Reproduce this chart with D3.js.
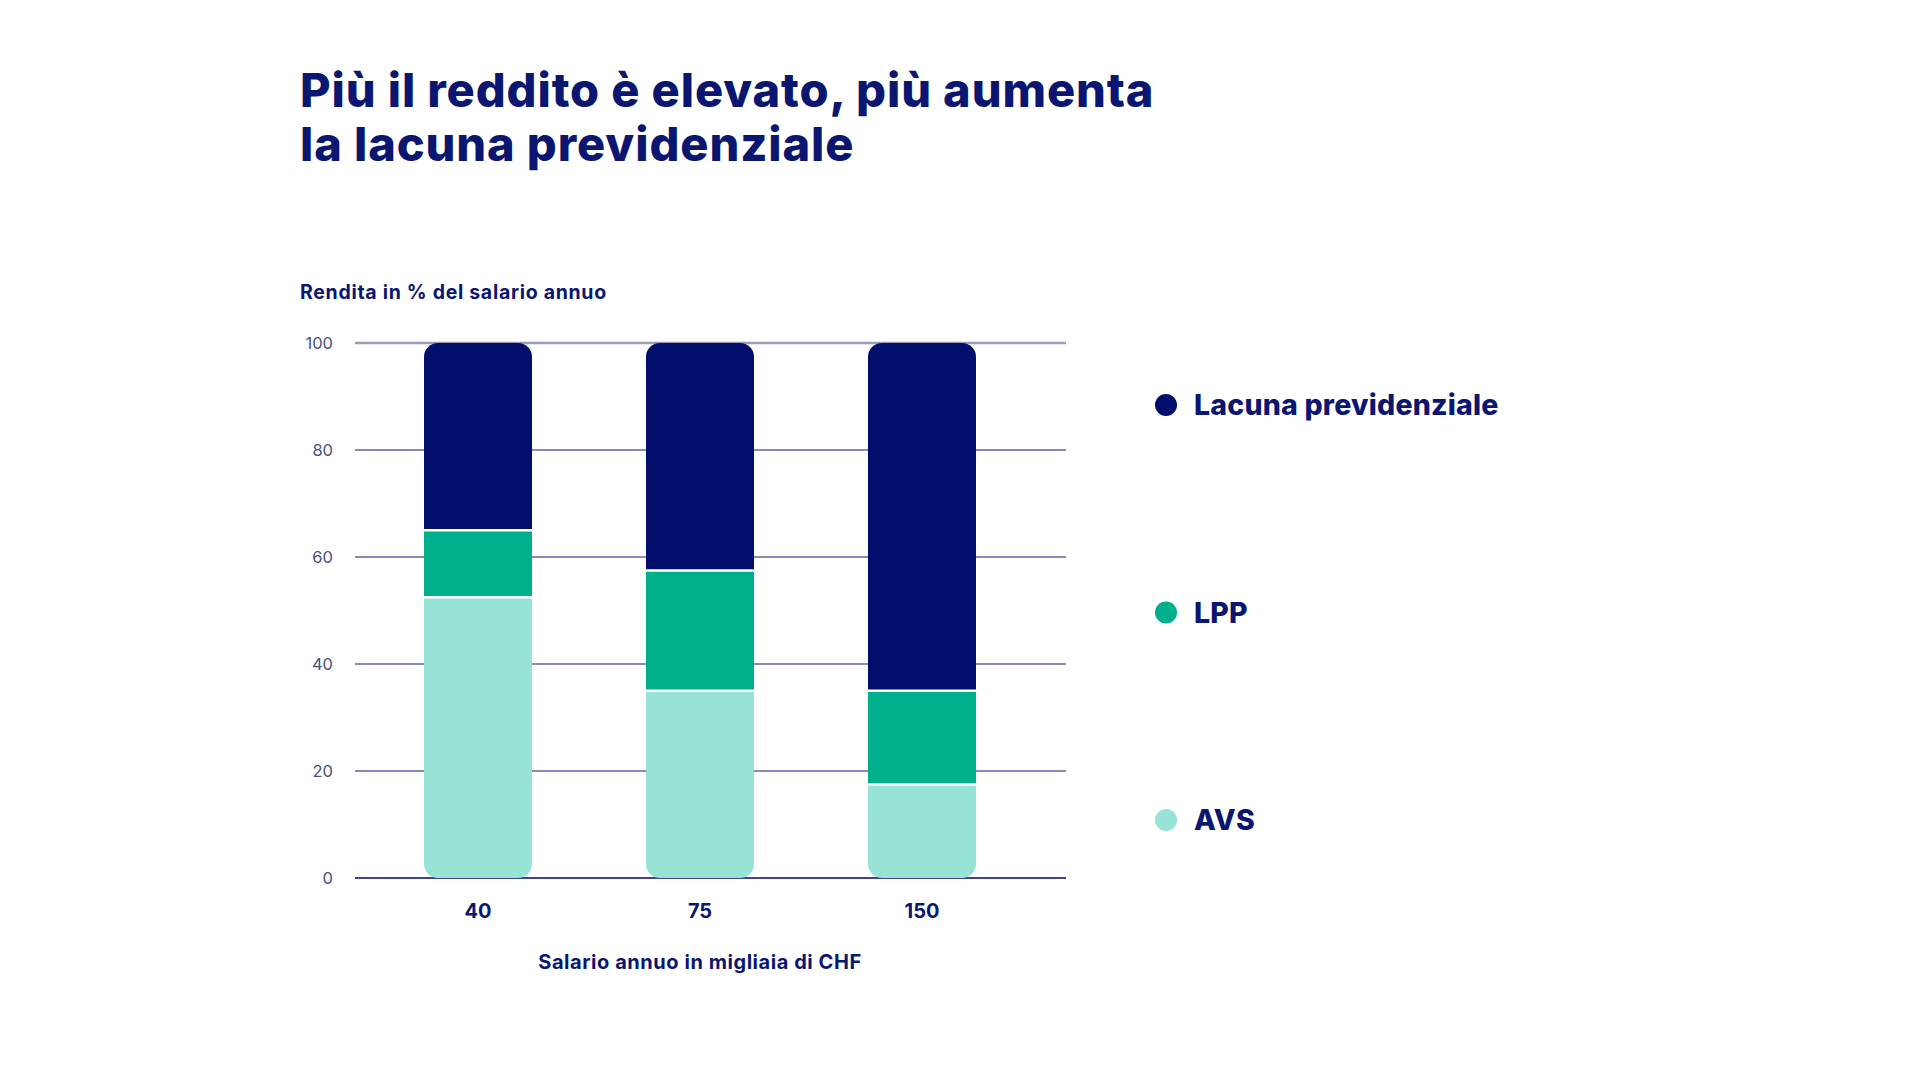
<!DOCTYPE html>
<html>
<head>
<meta charset="utf-8">
<script src="https://cdn.jsdelivr.net/npm/d3@7"></script>
<style>
  html, body { margin: 0; padding: 0; background: #fff; }
  svg text { font-family: Inter, "Noto Sans", sans-serif; }
</style>
</head>
<body>
<script>
// data
const categories = ["40", "75", "150"];
const seriesKeys = ["AVS", "LPP", "Lacuna previdenziale"];
const avsValues = [52.5, 35, 17.5];
const lppValues = [12.5, 22.5, 17.5];
const gapValues = [35, 42.5, 65];
const yTicks = [0, 20, 40, 60, 80, 100];
const legendOrder = ["Lacuna previdenziale", "LPP", "AVS"];

const colors = {
  "AVS": "#97e3d5",
  "LPP": "#00b08d",
  "Lacuna previdenziale": "#020e6b"
};
const NAVY = "#0b1670";

(function(){
  const WIDTH = 1920, HEIGHT = 1080;
  const svg = d3.select("body").append("svg")
    .attr("width", WIDTH).attr("height", HEIGHT);

  const rows = categories.map((c, i) => ({
    cat: c,
    "AVS": avsValues[i],
    "LPP": lppValues[i],
    "Lacuna previdenziale": gapValues[i]
  }));
  const stacked = d3.stack().keys(seriesKeys)(rows);

  const plot = {left: 355, right: 1066, top: 343, bottom: 878};

  // step 222, bandwidth 108
  const x = d3.scaleBand()
    .domain(categories)
    .range([367, 1033])
    .paddingInner(0.5135)
    .paddingOuter(0.25675);
  const y = d3.scaleLinear().domain([0, 100]).range([plot.bottom, plot.top]);

  // title
  const title = svg.append("text")
    .attr("x", 300).attr("y", 107)
    .attr("fill", NAVY)
    .attr("font-size", 47).attr("font-weight", 800)
    .attr("letter-spacing", 0.9);
  title.append("tspan").attr("x", 300).text("Più il reddito è elevato, più aumenta");
  title.append("tspan").attr("x", 300).attr("dy", 54).text("la lacuna previdenziale");

  // y axis title
  svg.append("text")
    .attr("x", 300).attr("y", 299)
    .attr("fill", NAVY)
    .attr("font-size", 19.5).attr("font-weight", 700)
    .attr("letter-spacing", 0.7)
    .text("Rendita in % del salario annuo");

  // gridlines
  svg.append("g").selectAll("line")
    .data(yTicks)
    .join("line")
    .attr("x1", plot.left).attr("x2", plot.right)
    .attr("y1", d => y(d)).attr("y2", d => y(d))
    .attr("stroke", d => d === 100 ? "#9a9db9" : (d === 0 ? "#3f4392" : "#5f63a2"))
    .attr("stroke-width", d => d === 100 ? 2.5 : (d === 0 ? 2 : 1.5));

  // y tick labels
  svg.append("g").selectAll("text")
    .data(yTicks)
    .join("text")
    .attr("x", 333).attr("y", d => y(d))
    .attr("dy", "0.35em")
    .attr("text-anchor", "end")
    .attr("fill", "#4b4f80")
    .attr("font-size", 16.5)
    .text(d => d);

  // clip paths for rounded bars
  const defs = svg.append("defs");
  const radius = 14;
  defs.selectAll("clipPath")
    .data(categories)
    .join("clipPath")
    .attr("id", (d, i) => "bar" + i)
    .append("rect")
    .attr("x", d => x(d))
    .attr("y", y(100))
    .attr("width", x.bandwidth())
    .attr("height", y(0) - y(100))
    .attr("rx", radius).attr("ry", radius);

  const bars = svg.append("g").selectAll("g")
    .data(categories)
    .join("g")
    .attr("clip-path", (d, i) => "url(#bar" + i + ")");

  bars.each(function(cat, i){
    const g = d3.select(this);
    stacked.forEach(layer => {
      const seg = layer[i];
      g.append("rect")
        .attr("x", x(cat))
        .attr("width", x.bandwidth())
        .attr("y", y(seg[1]))
        .attr("height", y(seg[0]) - y(seg[1]))
        .attr("fill", colors[layer.key]);
    });
    // white separators between segments
    stacked.slice(0, -1).forEach(layer => {
      g.append("line")
        .attr("x1", x(cat)).attr("x2", x(cat) + x.bandwidth())
        .attr("y1", y(layer[i][1])).attr("y2", y(layer[i][1]))
        .attr("stroke", "#fff").attr("stroke-width", 2.5);
    });
  });

  // x tick labels
  svg.append("g").selectAll("text")
    .data(categories)
    .join("text")
    .attr("x", d => x(d) + x.bandwidth() / 2)
    .attr("y", 918)
    .attr("text-anchor", "middle")
    .attr("fill", NAVY)
    .attr("font-size", 20).attr("font-weight", 700)
    .text(d => d);

  // x axis title
  svg.append("text")
    .attr("x", 700).attr("y", 969)
    .attr("text-anchor", "middle")
    .attr("fill", NAVY)
    .attr("font-size", 20).attr("font-weight", 700)
    .attr("letter-spacing", 0.55)
    .text("Salario annuo in migliaia di CHF");

  // legend
  const legendY = d3.scalePoint().domain(legendOrder).range([405, 820]);
  const leg = svg.append("g").selectAll("g")
    .data(legendOrder)
    .join("g")
    .attr("transform", d => `translate(1166,${legendY(d)})`);
  leg.append("circle").attr("r", 11).attr("fill", d => colors[d]);
  leg.append("text")
    .attr("x", 28).attr("dy", "0.36em")
    .attr("fill", NAVY)
    .attr("font-size", 28.5).attr("font-weight", 800)
    .attr("letter-spacing", 0.2)
    .text(d => d);
})();
</script>
</body>
</html>
